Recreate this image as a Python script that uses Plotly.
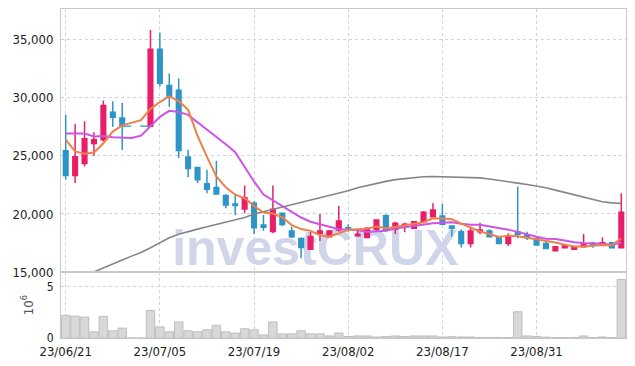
import plotly.graph_objects as go
import pandas as pd

dates = ["23/06/21","23/06/22","23/06/23","23/06/26","23/06/27","23/06/28","23/06/29","23/06/30",
         "23/07/03","23/07/04","23/07/05","23/07/06","23/07/07","23/07/10","23/07/11","23/07/12",
         "23/07/13","23/07/14","23/07/17","23/07/18","23/07/19","23/07/20","23/07/21","23/07/24",
         "23/07/25","23/07/26","23/07/27","23/07/28","23/07/31","23/08/01","23/08/02","23/08/03",
         "23/08/04","23/08/07","23/08/08","23/08/09","23/08/10","23/08/11","23/08/14","23/08/16",
         "23/08/17","23/08/18","23/08/21","23/08/22","23/08/23","23/08/24","23/08/25","23/08/28",
         "23/08/29","23/08/30","23/08/31","23/09/01","23/09/04","23/09/05","23/09/06","23/09/07",
         "23/09/08","23/09/11","23/09/12","23/09/13"]

open_ = [25430,23300,24340,26060,26380,28730,28250,27550,27550,27530,34140,31030,30630,24890,23990,22590,
         22270,21580,20860,20430,20920,19050,18500,20060,18530,17900,16980,18340,18040,18620,18820,18130,
         17990,18680,19850,18680,18970,18770,19340,19770,19830,18970,18470,17470,18470,18530,18040,17470,
         18470,18190,17900,17470,16840,17100,16980,17180,17470,17330,17530,17100]
high = [28530,27730,27960,27010,29740,29680,29540,27550,27550,35800,35580,32070,31640,25520,24050,23790,
        24570,21700,21640,22440,21120,19910,22440,20100,18900,17990,18450,20000,18620,20690,19110,18710,
        18850,19480,19970,19340,19250,19400,20260,20920,20860,18970,18680,18820,19250,18680,18040,18340,
        22350,18470,17900,17600,17180,17270,17180,18280,17620,17990,17530,21780]
low = [22950,22650,24080,25000,26230,27470,25490,27550,27550,27530,30970,29200,24800,23160,22650,21780,
       21640,20490,19910,20060,18280,18560,18340,18950,17930,16200,16980,17670,17990,18470,18470,18040,
       17990,18530,18420,18280,18420,18700,19340,19770,19110,18040,17130,17130,18250,18040,17470,17240,
       17900,17760,17330,17040,16840,17040,16920,17180,17100,17330,17100,17100]
close = [23300,24910,26460,26380,29310,28300,27590,27550,27550,34140,31230,30060,25460,23900,22930,22130,
         21720,20780,20720,21400,18820,18850,20400,19100,18040,17130,18070,18530,18530,19400,18680,18250,
         18770,19480,18680,19200,19110,19340,20150,20340,19110,18770,17470,18530,18620,18040,17470,18040,
         18250,17960,17330,17040,17180,17270,17180,17410,17330,17530,17100,20150]
volume_m = [2.2,2.13,2.04,0.6,2.1,0.7,0.96,0,0,2.68,1.08,0.6,1.56,0.7,0.6,0.8,1.24,0.6,0.48,0.9,0.8,0.3,
            1.56,0.4,0.4,0.7,0.4,0.4,0.2,0.48,0.15,0.2,0.2,0.1,0.15,0.2,0.15,0.2,0.2,0.2,0.1,0.12,0.1,0.1,
            0.05,0.05,0.05,0.05,2.55,0.2,0.15,0.08,0.05,0.05,0.05,0.2,0.05,0.1,0.05,5.7]
# moving-average values before enough history is visible
ma5_head = [26380,25370,25170,25280]
ma10_head = [26900,26900,26900,26660,26690,26580,26520,26520,26720]
ma60 = [14000,14350,14700,15050,15400,15730,16050,16380,16700,17100,17500,17950,18250,18500,18700,18900,
        19100,19300,19500,19700,20000,20200,20400,20580,20780,20980,21200,21400,21600,21800,22000,22250,
        22450,22650,22800,22950,23050,23150,23200,23220,23200,23180,23150,23130,23100,23000,22900,22780,
        22650,22530,22400,22250,22050,21850,21650,21450,21250,21050,20950,20900]
x_tick_dates = ["23/06/21","23/07/05","23/07/19","23/08/02","23/08/17","23/08/31"]
price_ticks = [15000,20000,25000,30000,35000]

RED = "#E81E68"
BLUE = "#2E95C8"
FONT = "DejaVu Sans Condensed, Liberation Sans Narrow, Liberation Sans, sans-serif"
GRID = "#CED1E2"

s = pd.Series(close, dtype=float)
ma5 = s.rolling(5).mean().tolist()
ma10 = s.rolling(10).mean().tolist()
ma5[:len(ma5_head)] = ma5_head
ma10[:len(ma10_head)] = ma10_head

halted = [o == h == l == c for o, h, l, c in zip(open_, high, low, close)]
mask = lambda arr: [None if hlt else v for v, hlt in zip(arr, halted)]
idx = [i for i, hlt in enumerate(halted) if hlt]
halt_x = dates[idx[0] - 1: idx[-1] + 2]
halt_y = [close[idx[0]]] * len(halt_x)

fig = go.Figure()
fig.add_trace(go.Bar(x=dates, y=volume_m, marker=dict(color="#D8D8D8", line=dict(color="#BEBEBE", width=1)),
                     xaxis="x2", yaxis="y2", showlegend=False, hoverinfo="skip"))
fig.add_trace(go.Candlestick(
    x=dates, open=mask(open_), high=mask(high), low=mask(low), close=mask(close),
    increasing=dict(line=dict(color=RED, width=1.5), fillcolor=RED),
    decreasing=dict(line=dict(color=BLUE, width=1.5), fillcolor=BLUE),
    whiskerwidth=0, showlegend=False, hoverinfo="skip"))
fig.add_trace(go.Scatter(x=halt_x, y=halt_y, mode="lines", line=dict(color=BLUE, width=1.2, dash="dash"),
                         showlegend=False, hoverinfo="skip"))
fig.add_trace(go.Scatter(x=dates, y=ma60, mode="lines", line=dict(color="#858585", width=1.6),
                         showlegend=False, hoverinfo="skip"))
fig.add_trace(go.Scatter(x=dates, y=ma10, mode="lines", line=dict(color="#CC55E6", width=2),
                         showlegend=False, hoverinfo="skip"))
fig.add_trace(go.Scatter(x=dates, y=ma5, mode="lines", line=dict(color="#EE8048", width=2),
                         showlegend=False, hoverinfo="skip"))

axis_common = dict(showline=True, linecolor="#C8C8C8", linewidth=1, mirror=True, automargin=False,
                   gridcolor=GRID, griddash="dot", gridwidth=1, zeroline=False)
fig.update_layout(
    width=635, height=366,
    margin=dict(l=61, r=9, t=9, b=28),
    paper_bgcolor="white", plot_bgcolor="white",
    font=dict(family=FONT, size=13, color="#222222"),
    xaxis=dict(type="category", domain=[0, 1], anchor="y", matches="x2", showticklabels=False,
               tickvals=x_tick_dates, rangeslider=dict(visible=False), **axis_common),
    yaxis=dict(domain=[0.2, 1], range=[15000, 37600], tickvals=price_ticks, tickformat=",d",
               ticks="outside", ticklen=4, tickcolor="rgba(0,0,0,0)", **axis_common),
    xaxis2=dict(type="category", domain=[0, 1], anchor="y2", tickvals=x_tick_dates,
                ticks="outside", ticklen=1, tickcolor="rgba(0,0,0,0)", **axis_common),
    yaxis2=dict(domain=[0, 0.2], range=[0, 6.4], tickvals=[0, 5], ticktext=["0", "5"],
                ticks="outside", ticklen=4, tickcolor="rgba(0,0,0,0)", tickfont=dict(size=12),
                title=dict(text="10<sup>6</sup>", font=dict(size=13, color="#555555"), standoff=10),
                **axis_common),
    bargap=0.1,
    shapes=[dict(type="rect", xref="paper", yref="paper", x0=0.15, x1=0.75, y0=0.22, y1=0.36,
                 line=dict(width=0), fillcolor="rgba(0,0,0,0)", layer="below",
                 label=dict(text="<b>investCRUX</b>", textposition="middle center",
                            font=dict(family="Liberation Sans", size=50, color="#D0D5EA", weight="bold")))],
)
fig.write_html("out.html", config={"displayModeBar": False},
               post_script="document.body.style.margin='0';document.body.style.overflow='hidden';")
